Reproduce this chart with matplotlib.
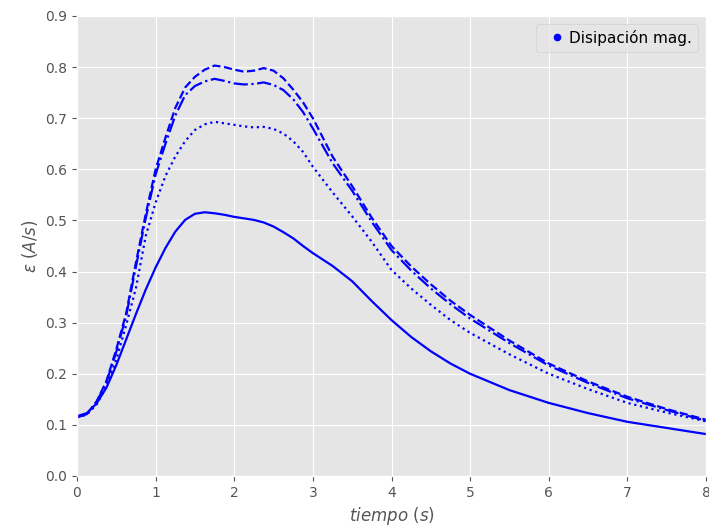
import numpy as np
import matplotlib
matplotlib.use('Agg')
import matplotlib.pyplot as plt

plt.style.use('ggplot')

# tiempo (s)
t = [0, 0.125, 0.25, 0.375, 0.5, 0.625, 0.75, 0.875, 1.0, 1.125, 1.25, 1.375,
     1.5, 1.625, 1.75, 1.875, 2.0, 2.125, 2.25, 2.375, 2.5, 2.625, 2.75,
     2.875, 3.0, 3.25, 3.5, 3.75, 4.0, 4.25, 4.5, 4.75, 5.0, 5.5, 6.0, 6.5,
     7.0, 7.5, 8.0]

eps_solid = [0.117, 0.123, 0.142, 0.173, 0.217, 0.267, 0.317, 0.365, 0.408,
             0.446, 0.478, 0.501, 0.513, 0.516, 0.514, 0.511, 0.507, 0.504,
             0.501, 0.496, 0.488, 0.477, 0.465, 0.450, 0.436, 0.411, 0.381,
             0.342, 0.305, 0.272, 0.244, 0.220, 0.200, 0.168, 0.143, 0.123,
             0.106, 0.094, 0.082]
eps_dotted = [0.115, 0.120, 0.140, 0.176, 0.228, 0.295, 0.368, 0.470, 0.535,
              0.587, 0.625, 0.655, 0.677, 0.688, 0.693, 0.690, 0.687, 0.684,
              0.682, 0.683, 0.679, 0.670, 0.655, 0.634, 0.605, 0.555, 0.508,
              0.458, 0.403, 0.367, 0.335, 0.305, 0.280, 0.238, 0.200, 0.170,
              0.143, 0.124, 0.107]
eps_dashdot = [0.115, 0.121, 0.145, 0.184, 0.243, 0.313, 0.410, 0.505, 0.590,
               0.650, 0.705, 0.745, 0.763, 0.772, 0.777, 0.773, 0.768, 0.766,
               0.767, 0.770, 0.765, 0.755, 0.737, 0.712, 0.680, 0.612, 0.558,
               0.497, 0.442, 0.402, 0.367, 0.336, 0.308, 0.260, 0.216, 0.182,
               0.152, 0.129, 0.108]
eps_dashed = [0.115, 0.121, 0.146, 0.186, 0.248, 0.318, 0.418, 0.513, 0.600,
              0.662, 0.720, 0.760, 0.781, 0.795, 0.803, 0.800, 0.795, 0.791,
              0.793, 0.798, 0.793, 0.778, 0.756, 0.731, 0.700, 0.625, 0.567,
              0.505, 0.450, 0.410, 0.375, 0.343, 0.315, 0.265, 0.220, 0.185,
              0.155, 0.131, 0.110]

fig, ax = plt.subplots(figsize=(7.09, 5.29), dpi=100)
fig.subplots_adjust(left=0.1086, right=0.9958, top=0.9698, bottom=0.1002)

ax.plot(t, eps_solid, color='blue', ls='-', lw=1.6)
ax.plot(t, eps_dotted, color='blue', ls=':', lw=1.6)
ax.plot(t, eps_dashdot, color='blue', ls='-.', lw=1.6)
ax.plot(t, eps_dashed, color='blue', ls='--', lw=1.6)
ax.plot([], [], 'o', color='blue', markersize=4.5, label='Disipación mag.')

ax.set_xlim(0, 8)
ax.set_ylim(0, 0.9)
ax.set_xlabel(r'$tiempo$ $(s)$')
ax.set_ylabel(r'$\varepsilon$ $(A/s)$')
ax.legend(loc='upper right', fontsize=11, handlelength=2.0, handletextpad=-0.2)

plt.savefig('out.png')
